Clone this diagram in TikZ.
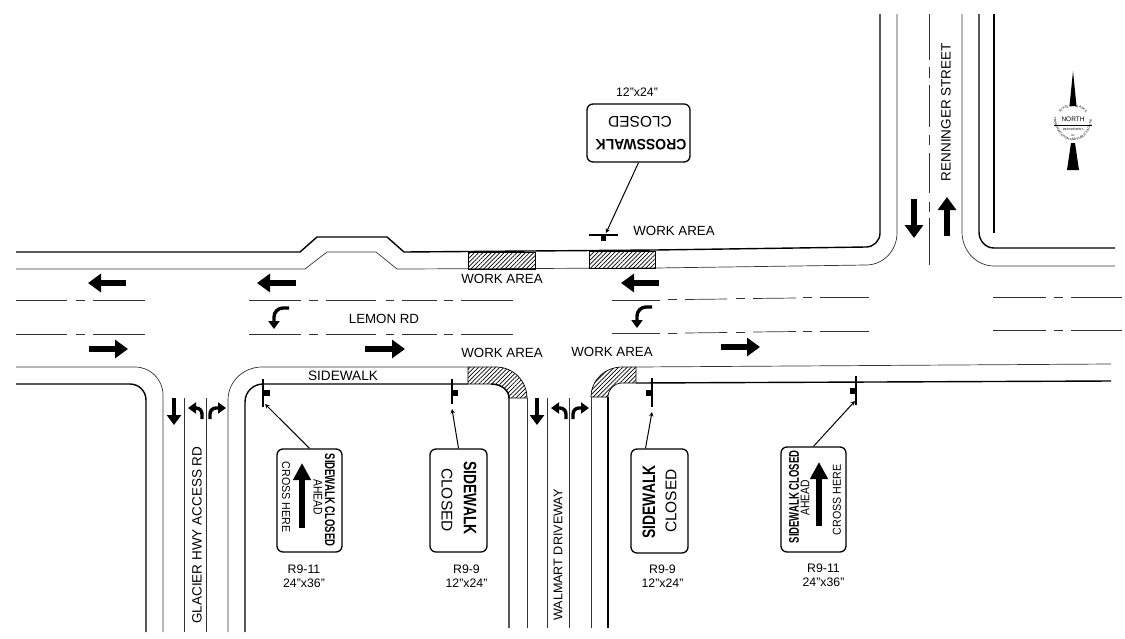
\documentclass[tikz,border=0pt]{standalone}
\usepackage{fontspec}
\setmainfont{Liberation Sans}
\usepackage{tikz}
\usetikzlibrary{arrows,arrows.meta,patterns.meta,decorations.text}
\newcommand{\lbl}{\fontsize{13.3}{15}\selectfont}
\newcommand{\dimlbl}{\fontsize{12.3}{14}\selectfont}
\newcommand{\sealfont}{\fontsize{3.2}{4}\selectfont}
\tikzstyle{curb} = [line width=1.4pt, black]
\tikzstyle{gutter} = [line width=0.7pt, black!80]
\tikzstyle{lane} = [line width=0.7pt, black!80]
\tikzstyle{hatched} = [line width=0.7pt, draw=black, pattern={Lines[angle=45,distance=3pt,line width=0.7pt]}]
\tikzstyle{lanearrow} = [line width=5.5pt, -{Triangle[length=13pt,width=18pt]}]
\tikzstyle{turnarrow} = [line width=3.4pt, -{Triangle[length=8pt,width=11pt]}]
\tikzstyle{signbox} = [rectangle, rounded corners=6pt, draw=black, line width=1.3pt, inner sep=0pt]
\tikzstyle{leader} = [line width=1pt, ->, >=stealth]
\tikzstyle{post} = [line width=1.4pt]
\tikzstyle{postmark} = [fill=black, inner sep=0pt, minimum size=5.5pt]
\tikzstyle{txt} = [inner sep=0pt, font=\lbl]
\tikzstyle{dimtxt} = [inner sep=0pt, font=\dimlbl]
\begin{document}
\begin{tikzpicture}[x=1pt, y=-1pt]
\useasboundingbox (0,0) rectangle (1125,638);

% lemon rd, north side
\draw [curb] (16,252) -- (300,252) -- (317,237) -- (387,237) -- (404,252) -- (655,250) -- (866,247) to[out=0,in=-90] (880,233) -- (880,14);
\draw [gutter] (16,269) -- (305,269) -- (327,252) -- (376,252) -- (397,269) -- (655,268) -- (866,265) to[out=0,in=-90] (897,233) -- (897,14);
\draw [hatched] (468,252) rectangle (535,269);
\draw [hatched] (589,251) rectangle (655,268);

% renninger street
\draw [gutter] (962,14) -- (962,232) to[out=-90,in=180] (994,266) -- (1115,266);
\draw [curb] (979,14) -- (979,232) to[out=-90,in=180] (994,248) -- (1115,248);
\draw [curb] (994,14) -- (994,233);
\foreach \ya/\yb in {14/60, 67/78, 85/127, 135/145, 153/193, 202/212, 218/265}
  \draw [gutter] (929,\ya) -- (929,\yb);

% lane lines
\foreach \yy in {300,334} {
  \foreach \xa/\xb in {16/67, 76/85, 93/145, 249/301, 309/318, 326/376, 386/394, 402/437, 444/453, 461/513}
    \draw [lane] (\xa,\yy) -- (\xb,\yy);
}
\foreach \dy in {0,33.5} {
  \foreach \xa/\xb/\ya/\yb in {612/660/300/300, 668/677/299.8/299.8, 685/727/299.5/299, 736/745/298.8/298.8, 753/796/298.5/298, 803/812/297.8/297.8, 820/869/297.5/297.5}
    \draw [lane] (\xa,\ya+\dy) -- (\xb,\yb+\dy);
  \foreach \xa/\xb in {993/1046, 1054/1063, 1071/1122}
    \draw [lane] (\xa,297+\dy) -- (\xb,297+\dy);
}

% south side and driveways
\draw [gutter] (16,367) -- (135,367) to[out=0,in=90] (163,395) -- (163,632);
\draw [curb] (16,384) -- (130,384) to[out=0,in=90] (146,400) -- (146,632);
\draw [gutter] (228,632) -- (228,400) to[out=90,in=180] (262,367) -- (468,367);
\draw [curb] (245,632) -- (245,402) to[out=90,in=180] (263,384) -- (468,384);
\draw [hatched] (468,367) -- (496,367) to[out=0,in=90] (527,398) -- (509,398) to[out=90,in=0] (491,384) -- (468,384) -- cycle;
\draw [curb] (491,384) to[out=0,in=90] (509,398) -- (509,628);
\draw [gutter] (527,398) -- (527,628);
\draw [gutter] (184,398) -- (184,632);
\draw [gutter] (206,398) -- (206,632);
\draw [gutter] (547,398) -- (547,628);
\draw [gutter] (569,398) -- (569,628);
\draw [hatched] (636,367) -- (622,367) to[out=180,in=90] (591,397) -- (608,397) to[out=90,in=180] (622,383) -- (636,383) -- cycle;
\draw [gutter] (591,397) -- (591,628);
\draw [curb] (608,397) -- (608,628);
\draw [gutter] (636,367) -- (1111,364);
\draw [curb] (636,383) -- (1111,381);

% pavement arrows
\draw [lanearrow] (126,283) -- (88,283);
\draw [lanearrow] (296,283) -- (257,283);
\draw [lanearrow] (659,283) -- (621,283);
\draw [lanearrow] (89,349) -- (128,349);
\draw [lanearrow] (365,349) -- (405,349);
\draw [lanearrow] (721,347) -- (760,347);
\draw [lanearrow] (914,199) -- (914,238);
\draw [lanearrow] (947,236) -- (947,197);
\draw [lanearrow, line width=4.5pt, -{Triangle[length=10pt,width=14pt]}] (174,398) -- (174,425);
\draw [lanearrow, line width=4.5pt, -{Triangle[length=10pt,width=14pt]}] (537,398) -- (537,425);
\draw [turnarrow] (289,308) -- (283,308) to[out=180,in=90] (274,317) -- (274,329);
\draw [turnarrow] (652,307) -- (646,307) to[out=180,in=90] (637,316) -- (637,328);
\draw [turnarrow] (202,419) -- (202,414) to[out=90,in=0] (196,408) -- (188,408);
\draw [turnarrow] (210,419) -- (210,414) to[out=90,in=180] (216,408) -- (226,408);
\draw [turnarrow] (566,419) -- (566,414) to[out=90,in=0] (560,408) -- (551,408);
\draw [turnarrow] (573,419) -- (573,414) to[out=90,in=180] (579,408) -- (589,408);

% labels
\node (wa1) [txt] at (502,279) {WORK AREA};
\node (wa2) [txt] at (502,353) {WORK AREA};
\node (wa3) [txt] at (612,352) {WORK AREA};
\node (wa4) [txt] at (674,231) {WORK AREA};
\node (lemon) [txt] at (384,319) {LEMON RD};
\node (walk) [txt, font=\fontsize{13.6}{15}\selectfont] at (343,376) {SIDEWALK};
\node (glacier) [txt, rotate=90, font=\fontsize{13.5}{15}\selectfont] at (197,535) {GLACIER HWY ACCESS RD};
\node (walmart) [txt, rotate=90, font=\fontsize{12.6}{15}\selectfont] at (558,555) {WALMART DRIVEWAY};
\node (renninger) [txt, rotate=90, font=\fontsize{13.5}{15}\selectfont] at (946,112) {RENNINGER STREET};

% signs
\node (crosssign) [signbox, minimum width=103pt, minimum height=58pt] at (638.5,133) {};
\node (crosstxt) [txt, rotate=180, xscale=.93, font=\fontsize{15}{17}\selectfont\bfseries] at (641,145) {CROSSWALK};
\node (crossclosed) [txt, rotate=180, font=\fontsize{15.5}{17}\selectfont] at (640,122) {CLOSED};
\node (crossdim) [dimtxt] at (637,92) {12"x24"};

\node (signA) [signbox, minimum width=65pt, minimum height=103pt] at (309.5,500.5) {};
\node (signAa) [txt, rotate=-90, xscale=.68, font=\fontsize{14}{16}\selectfont\bfseries] at (330,500) {SIDEWALK CLOSED};
\node (signAb) [txt, rotate=-90, xscale=.83, font=\fontsize{12.5}{14}\selectfont] at (318,497) {AHEAD};
\node (signAc) [txt, rotate=-90, xscale=.93, font=\fontsize{11.5}{14}\selectfont] at (286,497) {CROSS HERE};
\draw [lanearrow, line width=6pt, -{Triangle[length=17pt,width=17pt]}] (302,528) -- (302,463);
\node (dimA) [dimtxt, align=center] at (304,576.5) {R9-11\\24"x36"};

\node (signB) [signbox, minimum width=57pt, minimum height=103pt] at (458.5,500.5) {};
\node (signBa) [txt, rotate=-90, xscale=.77, font=\fontsize{18}{20}\selectfont\bfseries] at (470,498) {SIDEWALK};
\node (signBb) [txt, rotate=-90, font=\fontsize{15.5}{17}\selectfont] at (447,500) {CLOSED};
\node (dimB) [dimtxt, align=center] at (466.5,576.5) {R9-9\\12"x24"};

\node (signC) [signbox, minimum width=57pt, minimum height=104pt] at (659.5,501) {};
\node (signCa) [txt, rotate=90, xscale=.77, font=\fontsize{18}{20}\selectfont\bfseries] at (649,502) {SIDEWALK};
\node (signCb) [txt, rotate=90, font=\fontsize{15.5}{17}\selectfont] at (671,501) {CLOSED};
\node (dimC) [dimtxt, align=center] at (662.5,576.5) {R9-9\\12"x24"};

\node (signD) [signbox, minimum width=65pt, minimum height=105pt] at (813.5,499.5) {};
\node (signDa) [txt, rotate=90, xscale=.68, font=\fontsize{14}{16}\selectfont\bfseries] at (794,497) {SIDEWALK CLOSED};
\node (signDb) [txt, rotate=90, xscale=.83, font=\fontsize{12.5}{14}\selectfont] at (805,498) {AHEAD};
\node (signDc) [txt, rotate=90, xscale=.93, font=\fontsize{11.5}{14}\selectfont] at (837,500) {CROSS HERE};
\draw [lanearrow, line width=6pt, -{Triangle[length=17pt,width=17pt]}] (819,526) -- (819,462);
\node (dimD) [dimtxt, align=center] at (823.5,575) {R9-11\\24"x36"};

% posts
\coordinate (postX) at (606,233);
\coordinate (postA) at (265,404);
\coordinate (postB) at (452,409);
\coordinate (postC) at (652,412);
\coordinate (postD) at (855,401);
\draw [post] (589,235) -- (618,235);
\node (markX) [postmark] at (603.5,238) {};
\draw [post] (263,379) -- (263,407);
\node (markA) [postmark] at (267,393) {};
\draw [post] (452,379) -- (452,404);
\node (markB) [postmark] at (455,393) {};
\draw [post] (652,378) -- (652,407);
\node (markC) [postmark] at (649,393) {};
\draw [post] (856,376) -- (856,405);
\node (markD) [postmark] at (853,391) {};

\draw [leader] (crosssign.south) -- (postX);
\draw [leader] (signA.north) -- (postA);
\draw [leader] (signB.north) -- (postB);
\draw [leader] ([xshift=-14pt]signC.north) -- (postC);
\draw [leader] (signD.north) -- (postD);

% north seal
\fill (1073,71) -- (1069.5,106) -- (1076.5,106) -- cycle;
\fill (1071,143) -- (1075,143) -- (1079,170) -- (1067,170) -- cycle;
\draw [line width=0.6pt] (1054,125) -- (1092,125);
\node (northtxt) [inner sep=0pt, font=\fontsize{6.5}{7}\selectfont] at (1073,119.5) {NORTH};
\node (depttxt) [inner sep=0pt, font=\fontsize{3}{3}\selectfont] at (1073,129) {DEPARTMENT};
\node (oftxt) [inner sep=0pt, font=\fontsize{2.6}{3}\selectfont] at (1073,136) {OF};
\path [decorate, decoration={text along path, text align=center, text={|\sealfont|STATE OF ALASKA}}] (1058,116) .. controls (1064,104) and (1082,104) .. (1088,116);
\path [decorate, decoration={text along path, text align=center, text={|\sealfont|TRANSPORTATION AND PUBLIC FACILITIES}}] (1054,119) .. controls (1056,148) and (1090,148) .. (1092,119);
\end{tikzpicture}
\end{document}
